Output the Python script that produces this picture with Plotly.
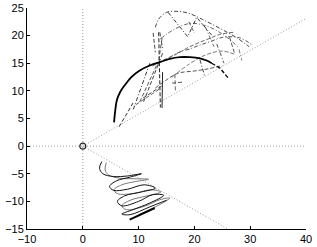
import math
import plotly.graph_objects as go

# ---- axis data ----
x_range = [-10, 40]
y_range = [-15, 25]
x_ticks = [-10, 0, 10, 20, 30, 40]
y_ticks = [-15, -10, -5, 0, 5, 10, 15, 20, 25]
ray_angles_deg = [30, -30]
origin = [0, 0]

# ---- upper cluster curves ----
solid_arc_x = [5.6, 5.8, 6.1, 6.7, 7.5, 8.7, 10.2, 12.0, 13.8, 15.6, 17.4, 19.2, 21.0, 22.2, 23.1]
solid_arc_y = [4.3, 6.3, 8.3, 9.8, 11.0, 12.5, 13.7, 14.6, 15.2, 15.8, 16.1, 16.1, 15.9, 15.5, 15.0]
arc_tail_x = [23.1, 24.6, 26.0]
arc_tail_y = [15.0, 14.1, 12.4]

top_arc_x = [13.0, 13.6, 15.0, 16.5, 18.8, 21.5, 24.6, 27.6, 29.8]
top_arc_y = [21.5, 23.0, 24.2, 24.4, 24.1, 22.9, 21.3, 19.6, 18.0]

mid_arc_x = [15.5, 17.0, 19.2, 21.0, 22.8, 25.1, 28.1, 30.5]
mid_arc_y = [16.0, 16.9, 17.6, 18.3, 18.9, 19.7, 19.6, 18.2]

inner_arc_x = [12.5, 14.5, 16.5, 18.6, 20.5, 22.5, 24.5, 27.0]
inner_arc_y = [14.5, 15.6, 16.5, 17.7, 18.6, 19.4, 20.2, 20.6]

low_arc_x = [13.0, 15.0, 17.1, 20.0, 22.5, 25.0]
low_arc_y = [10.5, 12.0, 13.2, 13.6, 14.0, 14.6]

extra_arc1_x = [14.0, 16.5, 19.2, 22.0, 25.0, 28.0]
extra_arc1_y = [19.5, 21.2, 22.2, 21.8, 20.3, 17.8]

extra_arc2_x = [16.0, 19.0, 22.0, 25.0, 27.5]
extra_arc2_y = [12.5, 14.8, 16.5, 17.2, 16.5]

flap_x = [15.3, 17.0, 18.8, 20.4, 21.8, 23.1]
flap_y = [24.2, 22.0, 19.8, 23.3, 21.6, 20.1]

seg_x = [
    [13.6, 13.9], [12.0, 9.0], [14.3, 10.8], [10.2, 13.4], [14.2, 14.3],
    [10.8, 14.3], [9.5, 14.0], [6.5, 9.0], [13.8, 14.3], [14.2, 13.4],
    [21.0, 21.9], [26.3, 27.2], [16.5, 16.6], [24.0, 25.3], [16.0, 18.0],
    [28.0, 28.5], [19.0, 20.0], [12.6, 13.0], [22.0, 23.5],
]
seg_y = [
    [20.6, 7.0], [15.0, 6.5], [16.8, 7.8], [8.0, 15.0], [6.9, 13.4],
    [8.7, 11.0], [7.5, 10.5], [3.5, 7.8], [20.6, 17.7], [19.5, 14.1],
    [15.6, 12.5], [19.7, 16.8], [13.0, 9.8], [18.5, 15.0], [11.4, 11.6],
    [17.5, 15.5], [22.5, 20.5], [20.5, 17.0], [21.5, 18.0],
]
seg_dash = ["d", "dd", "d", "d", "s",
            "d", "d", "d", "dd", "d",
            "dd", "d", "d", "dd", "d",
            "dd", "d", "d", "dd"]
seg_color = ["#222", "#333", "#444", "#555", "#222",
             "#444", "#666", "#333", "#444", "#555",
             "#444", "#555", "#666", "#555", "#555",
             "#777", "#555", "#444", "#666"]

# ---- lower cluster (zigzag) ----
zig1_x = [3.4, 3.0, 3.6, 5.5, 8.0, 10.5, 8.5, 6.0, 4.8, 5.5, 8.0, 11.0, 13.0, 10.5, 7.5,
          6.2, 7.0, 10.0, 12.5, 14.5, 12.0, 9.0, 7.0, 8.5, 12.0, 15.0]
zig1_y = [-2.8, -4.0, -5.0, -5.5, -5.4, -5.0, -5.6, -6.3, -7.3, -8.0, -7.8, -7.0, -7.6, -8.3, -9.0,
          -10.0, -10.8, -10.0, -8.8, -8.9, -10.3, -11.5, -12.3, -12.4, -11.0, -9.8]
zig2_x = [4.2, 4.0, 4.6, 6.5, 9.0, 11.8, 9.5, 7.0, 5.6, 6.2, 9.0, 12.2, 14.0, 11.5, 8.5,
          7.0, 7.8, 11.0, 13.8, 15.6, 13.0, 10.0]
zig2_y = [-3.0, -4.3, -5.2, -5.8, -5.9, -6.0, -6.4, -7.0, -7.9, -8.6, -8.6, -7.9, -8.3, -9.0, -9.8,
          -10.8, -11.5, -10.9, -9.7, -9.4, -11.0, -12.4]
tail_x = [8.4, 10.0, 11.5, 12.9]
tail_y = [-13.3, -12.6, -11.9, -11.2]

DASH = {"d": "4px,2px", "dd": "4px,2px,1px,2px", "s": "solid"}

fig = go.Figure()

# reference lines
dot = "1px,2px"
ref_col = "#9a9a9a"
fig.add_trace(go.Scatter(x=[0, 0], y=y_range, mode="lines",
                         line=dict(color=ref_col, width=1, dash=dot), hoverinfo="skip"))
fig.add_trace(go.Scatter(x=x_range, y=[0, 0], mode="lines",
                         line=dict(color=ref_col, width=1, dash=dot), hoverinfo="skip"))
for a in ray_angles_deg:
    s = math.tan(math.radians(a))
    xe = x_range[1]
    ye = s * xe
    if ye < y_range[0]:
        ye = y_range[0]
        xe = ye / s
    if ye > y_range[1]:
        ye = y_range[1]
        xe = ye / s
    fig.add_trace(go.Scatter(x=[0, xe], y=[0, ye], mode="lines",
                             line=dict(color=ref_col, width=1, dash=dot), hoverinfo="skip"))

# upper cluster
fig.add_trace(go.Scatter(x=top_arc_x, y=top_arc_y, mode="lines", line_shape="spline",
                         line=dict(color="#444", width=1, dash=DASH["dd"])))
fig.add_trace(go.Scatter(x=mid_arc_x, y=mid_arc_y, mode="lines", line_shape="spline",
                         line=dict(color="#555", width=1, dash=DASH["dd"])))
fig.add_trace(go.Scatter(x=inner_arc_x, y=inner_arc_y, mode="lines", line_shape="spline",
                         line=dict(color="#666", width=1, dash=DASH["d"])))
fig.add_trace(go.Scatter(x=low_arc_x, y=low_arc_y, mode="lines", line_shape="spline",
                         line=dict(color="#555", width=1, dash=DASH["d"])))
fig.add_trace(go.Scatter(x=extra_arc1_x, y=extra_arc1_y, mode="lines", line_shape="spline",
                         line=dict(color="#666", width=1, dash=DASH["dd"])))
fig.add_trace(go.Scatter(x=extra_arc2_x, y=extra_arc2_y, mode="lines", line_shape="spline",
                         line=dict(color="#777", width=1, dash=DASH["d"])))
fig.add_trace(go.Scatter(x=flap_x, y=flap_y, mode="lines",
                         line=dict(color="#333", width=1, dash=DASH["dd"])))
for sx, sy, sd, sc in zip(seg_x, seg_y, seg_dash, seg_color):
    fig.add_trace(go.Scatter(x=sx, y=sy, mode="lines",
                             line=dict(color=sc, width=1, dash=DASH[sd])))
fig.add_trace(go.Scatter(x=solid_arc_x, y=solid_arc_y, mode="lines", line_shape="spline",
                         line=dict(color="#000", width=1.8)))
fig.add_trace(go.Scatter(x=arc_tail_x, y=arc_tail_y, mode="lines",
                         line=dict(color="#000", width=1.3, dash=DASH["d"])))

# lower cluster
fig.add_trace(go.Scatter(x=zig2_x, y=zig2_y, mode="lines", line_shape="spline",
                         line=dict(color="#777", width=1)))
fig.add_trace(go.Scatter(x=zig1_x, y=zig1_y, mode="lines", line_shape="spline",
                         line=dict(color="#111", width=1)))
fig.add_trace(go.Scatter(x=tail_x, y=tail_y, mode="lines",
                         line=dict(color="#000", width=2)))

# origin marker
fig.add_trace(go.Scatter(x=[origin[0]], y=[origin[1]], mode="markers",
                         marker=dict(symbol="circle-open", size=6, color="#222",
                                     line=dict(width=1.2))))

axis_font = dict(family="Liberation Sans, Arial, sans-serif", size=11, color="#000")
fig.update_layout(
    width=317, height=247,
    margin=dict(l=27, r=11, t=8, b=18, autoexpand=False),
    paper_bgcolor="white", plot_bgcolor="white",
    showlegend=False,
    xaxis=dict(range=x_range, tickvals=x_ticks, ticks="inside", ticklen=3,
               showgrid=False, zeroline=False, showline=True, linecolor="#000",
               linewidth=1, tickcolor="#000", tickfont=axis_font, automargin=False),
    yaxis=dict(range=y_range, tickvals=y_ticks, ticks="inside", ticklen=3,
               showgrid=False, zeroline=False, showline=True, linecolor="#000",
               linewidth=1, tickcolor="#000", tickfont=axis_font, automargin=False),
)
fig.write_html("out.html", config={"displayModeBar": False},
               post_script="document.body.style.margin='0px';document.body.style.overflow='hidden';")
